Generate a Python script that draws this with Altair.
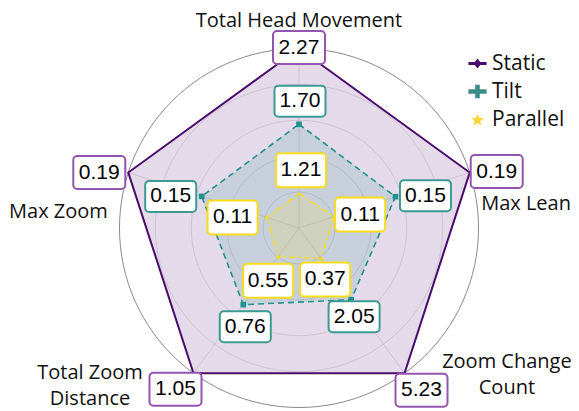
import altair as alt
import pandas as pd
import numpy as np

# ---------------- data ----------------
axis_names = ["Total Head Movement", "Max Lean", "Zoom Change\nCount", "Total Zoom\nDistance", "Max Zoom"]
series_names = ["Static", "Tilt", "Parallel"]
static_values = [2.27, 0.19, 5.23, 1.05, 0.19]
tilt_values = [1.70, 0.15, 2.05, 0.76, 0.15]
parallel_values = [1.21, 0.11, 0.37, 0.55, 0.11]
# plotted (scaled) radius of each vertex
static_radius = [1.0, 1.0, 1.0, 1.0, 1.0]
tilt_radius = [0.578, 0.565, 0.494, 0.528, 0.570]
parallel_radius = [0.193, 0.206, 0.210, 0.198, 0.190]
grid_levels = [0.2, 0.4, 0.6, 0.8, 1.0]

# ---------------- layout ----------------
W, H = 563, 403
R = 179.5          # pixels per unit radius
CX, CY = 291, 220  # centre in plot coords
xdom = [-CX / R, (W - CX) / R]
ydom = [(CY - H) / R, CY / R]
N = len(axis_names)

line_col = {"Static": "#4a0a6b", "Tilt": "#21918c", "Parallel": "#f5dc1a"}
box_col = {"Static": "#9455b0", "Tilt": "#3d9a93", "Parallel": "#f7dc1e"}
dash = {"Static": None, "Tilt": [6, 4], "Parallel": [6, 3, 2, 3]}
# label box offsets from vertex (px, right / down)
box_off = {
    "Static": [(0, -1), (27, -1), (17, 17), (-18, 16), (-29, 0)],
    "Tilt": [(1, -23), (30, -1), (3, 17), (2, 22), (-31, 0)],
    "Parallel": [(2, -23), (26, -2), (4, 21), (-10, 24), (-34, 0)],
}
box_size = {"Static": (52, 33), "Tilt": (51, 31), "Parallel": (50, 34)}
# axis-name placement (radius, angle in degrees clockwise from top) of the first line
axis_label_pos = [(1.155, 0), (1.272, 83.96), (1.378, 122.8), (1.417, 235.25), (1.343, 273.8)]

values = {"Static": static_values, "Tilt": tilt_values, "Parallel": parallel_values}
radius = {"Static": static_radius, "Tilt": tilt_radius, "Parallel": parallel_radius}

# ---------------- tables ----------------
poly_rows = []
for s in series_names:
    for k in range(N + 1):
        i = k % N
        poly_rows.append({"series": s, "k": k, "i": i, "r": radius[s][i]})
poly_df = pd.DataFrame(poly_rows)

lab_rows = []
for s in series_names:
    for i in range(N):
        dx, dy = box_off[s][i]
        w, h = box_size[s]
        lab_rows.append({"series": s, "i": i, "r": radius[s][i], "val": f"{values[s][i]:.2f}",
                         "dx": dx, "dy": dy, "w": w, "h": h})
lab_df = pd.DataFrame(lab_rows)

grid_rows = []
for lv in grid_levels:
    for d in range(0, 361, 3):
        grid_rows.append({"lvl": lv, "deg": d, "outer": lv == 1.0})
grid_df = pd.DataFrame(grid_rows)

spoke_rows = []
for i in range(N):
    for r in (0.0, 1.0):
        spoke_rows.append({"i": i, "r": r})
spoke_df = pd.DataFrame(spoke_rows)

axis_df = pd.DataFrame({"name": axis_names,
                        "lr": [p[0] for p in axis_label_pos],
                        "ldeg": [p[1] for p in axis_label_pos]})

legend_df = pd.DataFrame({"series": series_names})

X = alt.X("x:Q", scale=alt.Scale(domain=xdom, nice=False, zero=False), axis=None)
Y = alt.Y("y:Q", scale=alt.Scale(domain=ydom, nice=False, zero=False), axis=None)

ang = f"datum.i * 2 * PI / {N}"

grid = alt.Chart(grid_df).transform_calculate(
    x="datum.lvl * sin(datum.deg * PI / 180)",
    y="datum.lvl * cos(datum.deg * PI / 180)",
).transform_filter("!datum.outer").mark_line(color="#bdbdbd", strokeWidth=1, opacity=0.4).encode(
    x=X, y=Y, detail="lvl:N", order="deg:Q")

outer = alt.Chart(grid_df).transform_calculate(
    x="datum.lvl * sin(datum.deg * PI / 180)",
    y="datum.lvl * cos(datum.deg * PI / 180)",
).transform_filter("datum.outer").mark_line(color="#8a8a8a", strokeWidth=1).encode(
    x=X, y=Y, detail="lvl:N", order="deg:Q")

spokes = alt.Chart(spoke_df).transform_calculate(
    x=f"datum.r * sin({ang})", y=f"datum.r * cos({ang})"
).mark_line(color="#bdbdbd", strokeWidth=1, opacity=0.4).encode(x=X, y=Y, detail="i:N", order="r:Q")


def polygon(s, width):
    kw = dict(color=line_col[s], fill=line_col[s], fillOpacity=0.15, strokeWidth=width)
    if dash[s]:
        kw["strokeDash"] = dash[s]
    return alt.Chart(poly_df).transform_filter(alt.datum.series == s).transform_calculate(
        x=f"datum.r * sin({ang})", y=f"datum.r * cos({ang})"
    ).mark_line(**kw).encode(x=X, y=Y, order="k:Q")


polys = [polygon("Static", 2), polygon("Tilt", 1.6), polygon("Parallel", 1.6)]

tilt_pts = alt.Chart(poly_df).transform_filter("datum.series == 'Tilt' && datum.k < 5").transform_calculate(
    x=f"datum.r * sin({ang})", y=f"datum.r * cos({ang})"
).mark_point(shape="square", filled=True, size=32, color=line_col["Tilt"], opacity=1).encode(x=X, y=Y)

par_pts = alt.Chart(poly_df).transform_filter("datum.series == 'Parallel' && datum.k < 5").transform_calculate(
    x=f"datum.r * sin({ang})", y=f"datum.r * cos({ang})"
).mark_point(shape="triangle-up", filled=True, size=22, color=line_col["Parallel"], opacity=1).encode(x=X, y=Y)

lab_base = alt.Chart(lab_df).transform_calculate(
    bx=f"datum.r * sin({ang}) + datum.dx / {R}",
    by=f"datum.r * cos({ang}) - datum.dy / {R}",
).transform_calculate(
    x1=f"datum.bx - datum.w / 2 / {R}", x2=f"datum.bx + datum.w / 2 / {R}",
    y1=f"datum.by - datum.h / 2 / {R}", y2=f"datum.by + datum.h / 2 / {R}",
)

boxes = lab_base.mark_rect(fill="white", cornerRadius=4, strokeWidth=2).encode(
    x=alt.X("x1:Q", scale=alt.Scale(domain=xdom, nice=False, zero=False), axis=None),
    x2="x2:Q",
    y=alt.Y("y1:Q", scale=alt.Scale(domain=ydom, nice=False, zero=False), axis=None),
    y2="y2:Q",
    stroke=alt.Stroke("series:N", scale=alt.Scale(domain=series_names,
                                                  range=[box_col[s] for s in series_names]), legend=None),
)

texts = lab_base.mark_text(font="Liberation Sans", fontSize=21, color="black", baseline="middle",
                           align="center").encode(
    x=alt.X("bx:Q", scale=alt.Scale(domain=xdom, nice=False, zero=False), axis=None),
    y=alt.Y("by:Q", scale=alt.Scale(domain=ydom, nice=False, zero=False), axis=None),
    text="val:N",
)

axis_text = alt.Chart(axis_df).transform_calculate(
    x="datum.lr * sin(datum.ldeg * PI / 180)", y="datum.lr * cos(datum.ldeg * PI / 180)"
).mark_text(font="Open Sans", fontSize=20, color="#111111", baseline="middle", align="center",
            lineBreak="\n", lineHeight=26).encode(x=X, y=Y, text="name:N")

# legend symbols
static_sym = "M-1,-0.17L-0.3,-0.17L0,-0.55L0.3,-0.17L1,-0.17L1,0.17L0.3,0.17L0,0.55L-0.3,0.17L-1,0.17Z"
tilt_sym = "M-1,-0.25L-0.25,-0.25L-0.25,-0.75L0.25,-0.75L0.25,-0.25L1,-0.25L1,0.25L0.25,0.25L0.25,0.75L-0.25,0.75L-0.25,0.25L-1,0.25Z"
pts = []
for j in range(10):
    rr = 0.72 if j % 2 == 0 else 0.32
    a = j * np.pi / 5
    pts.append(f"{rr * np.sin(a):.3f},{-rr * np.cos(a) + 0.08:.3f}")
star_sym = "M" + "L".join(pts) + "Z"

legend_layer = alt.Chart(legend_df).mark_point(filled=True, opacity=1).encode(
    x=alt.X("missing:Q", scale=alt.Scale(domain=xdom, nice=False, zero=False), axis=None),
    y=alt.Y("missing:Q", scale=alt.Scale(domain=ydom, nice=False, zero=False), axis=None),
    color=alt.Color("series:N", scale=alt.Scale(domain=series_names,
                                                range=["#4a0a6b", "#3b8b88", "#fbd53a"]),
                    legend=alt.Legend(orient="none", legendX=459, legendY=45, title=None,
                                      labelFontSize=21, labelFont="Open Sans", labelColor="#111111",
                                      symbolSize=330, rowPadding=6, symbolStrokeWidth=0,
                                      labelOffset=4, symbolOpacity=1)),
    shape=alt.Shape("series:N", scale=alt.Scale(domain=series_names,
                                                range=[static_sym, tilt_sym, star_sym]), legend=None),
)

chart = alt.layer(grid, spokes, outer, *polys, tilt_pts, par_pts, boxes, texts, axis_text,
                  legend_layer).resolve_scale(stroke="independent").properties(
    width=W, height=H, autosize=alt.AutoSizeParams(type="none"), padding=0
).configure_view(stroke=None)

chart.save("out.html", embed_options={"renderer": "svg", "actions": False})
